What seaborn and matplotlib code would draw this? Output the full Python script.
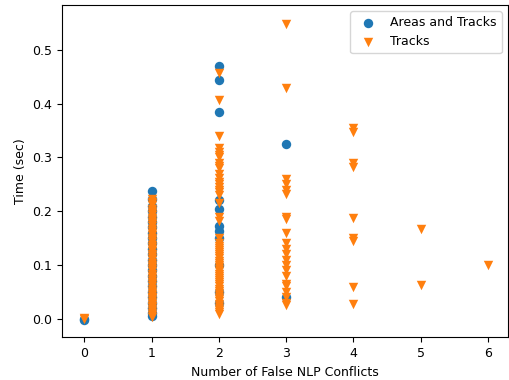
import matplotlib
matplotlib.use("Agg")
import matplotlib.pyplot as plt
import seaborn as sns
import pandas as pd

# Areas and Tracks series: time values per number of false conflicts
at_0 = [0.0, -0.002]
at_1 = [0.238, 0.222, 0.21, 0.2, 0.19, 0.18, 0.17, 0.16, 0.15, 0.14, 0.13, 0.12,
        0.11, 0.1, 0.09, 0.08, 0.07, 0.06, 0.05, 0.04, 0.03, 0.02, 0.01, 0.005]
at_2 = [0.47, 0.444, 0.385, 0.22, 0.204, 0.173, 0.164, 0.151, 0.1, 0.05, 0.03]
at_3 = [0.326, 0.04]

# Tracks series
tr_0 = [0.0, 0.002]
tr_1 = [0.222, 0.215, 0.205, 0.197, 0.188, 0.18, 0.172, 0.163, 0.155, 0.146,
        0.138, 0.13, 0.121, 0.113, 0.104, 0.096, 0.088, 0.08, 0.072, 0.064,
        0.056, 0.048, 0.041, 0.034, 0.027, 0.021, 0.015, 0.01, 0.006, 0.003,
        0.218, 0.201, 0.184, 0.167, 0.117, 0.084,
        0.211, 0.193, 0.176, 0.159, 0.151, 0.142, 0.134, 0.126, 0.109, 0.1,
        0.092, 0.076, 0.068, 0.06, 0.052, 0.044, 0.038, 0.031, 0.024, 0.018]
tr_2 = [0.457, 0.407, 0.34, 0.318, 0.31, 0.3, 0.29, 0.28, 0.27, 0.262, 0.25,
        0.24, 0.23, 0.19, 0.182, 0.14, 0.132, 0.124, 0.116, 0.108, 0.1, 0.092,
        0.084, 0.076, 0.068, 0.06, 0.052, 0.044, 0.036, 0.028, 0.02, 0.012,
        0.008, 0.215, 0.15, 0.305, 0.285, 0.255, 0.245, 0.235, 0.128, 0.096,
        0.064, 0.04, 0.136, 0.12, 0.112, 0.104, 0.088, 0.08, 0.072, 0.056,
        0.048, 0.032, 0.024, 0.016]
tr_3 = [0.548, 0.43, 0.26, 0.25, 0.24, 0.232, 0.19, 0.185, 0.16, 0.14, 0.13,
        0.12, 0.11, 0.1, 0.09, 0.08, 0.065, 0.06, 0.05, 0.04, 0.03, 0.025]
tr_4 = [0.355, 0.347, 0.29, 0.282, 0.188, 0.15, 0.145, 0.058, 0.028]
tr_5 = [0.167, 0.063]
tr_6 = [0.1]

at_groups = {0: at_0, 1: at_1, 2: at_2, 3: at_3}
tr_groups = {0: tr_0, 1: tr_1, 2: tr_2, 3: tr_3, 4: tr_4, 5: tr_5, 6: tr_6}


def to_frame(groups):
    xs, ys = [], []
    for k, vals in groups.items():
        xs.extend([k] * len(vals))
        ys.extend(vals)
    return pd.DataFrame({"x": xs, "y": ys})


df_at = to_frame(at_groups)
df_tr = to_frame(tr_groups)

fig, ax = plt.subplots(figsize=(5.09, 3.8), dpi=100)
fig.subplots_adjust(left=0.122, right=0.998, top=0.987, bottom=0.112)

sns.scatterplot(data=df_at, x="x", y="y", ax=ax, color="#1f77b4", marker="o",
                s=46, linewidth=0, label="Areas and Tracks")
sns.scatterplot(data=df_tr, x="x", y="y", ax=ax, color="#ff7f0e", marker="v",
                s=46, linewidth=0, label="Tracks")

ax.set_xlabel("Number of False NLP Conflicts", fontsize=9)
ax.set_ylabel("Time (sec)", fontsize=9)
ax.tick_params(labelsize=9)
ax.set_yticks([0.0, 0.1, 0.2, 0.3, 0.4, 0.5])
ax.set_xticks([0, 1, 2, 3, 4, 5, 6])
ax.set_xlim(-0.33, 6.3)
ax.set_ylim(-0.035, 0.584)
ax.legend(loc="upper right", fontsize=9)

fig.savefig("out.png", dpi=100)
